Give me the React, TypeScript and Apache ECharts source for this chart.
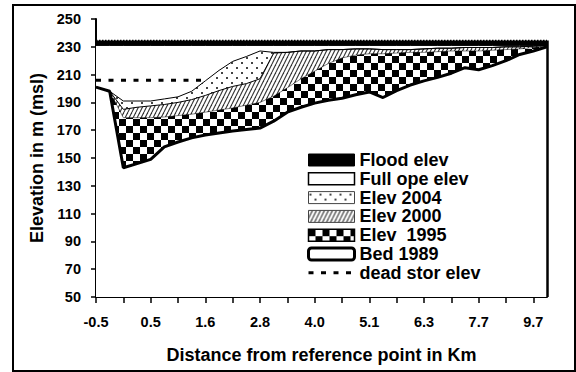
import React, { useEffect, useRef } from "react";
import * as echarts from "echarts";

const categories = ["-0.5","-0.3","0.0","0.2","0.5","0.8","1.0","1.3","1.6","1.9","2.2","2.5","2.8","3.1","3.4","3.7","4.0","4.3","4.5","4.8","5.1","5.4","5.7","6.0","6.3","6.7","7.0","7.4","7.7","8.2","8.7","9.2","9.7","10.0"];

const floodElev = [234.5,234.5,234.5,234.5,234.5,234.5,234.5,234.5,234.5,234.5,234.5,234.5,234.5,234.5,234.5,234.5,234.5,234.5,234.5,234.5,234.5,234.5,234.5,234.5,234.5,234.5,234.5,234.5,234.5,234.5,234.5,234.5,234.5,234.5];
const fullOpeElev = [231,231,231,231,231,231,231,231,231,231,231,231,231,231,231,231,231,231,231,231,231,231,231,231,231,231,231,231,231,231,231,231,231,231];
const elev2004 = [201,198,191,191,191,192.5,194,198,205.5,213,219.5,223,227,226,226,227,227,228,228,228.5,228.5,228,228,228,228.5,229,229,229.5,229.5,229.5,230,230,230.5,231];
const elev2000 = [201,198,185,186.5,187.5,188.5,190,192,195,198.5,201.5,203.5,207,225.5,226,227,227,228,228,228.5,228.5,228,228,228,228.5,229,229,229.5,229.5,229.5,230,230,230.5,231];
const elev1995 = [201,198,179,179,179,179.5,180.5,181.5,183,184.5,186,188,190,194.5,200.5,207,212.5,218,222,224,225,225,225.5,226,226,226.5,227,227,227,227.5,228,228.5,229.5,230.5];
const bed1989 = [201,198,143,146,149,158,161.5,164.5,166.5,168,169.5,170.5,171.5,176.5,183,186.5,189.5,191.5,193,195.5,197.5,193.5,198.5,202.5,205.5,208,211,215,213.5,216.5,220,224.5,227,230];
const deadStorElev = [206,206,206,206,206,206,206,206,206,null,null,null,null,null,null,null,null,null,null,null,null,null,null,null,null,null,null,null,null,null,null,null,null,null];

const yTicks = [50,70,90,110,130,150,170,190,210,230,250];
const yMin = 50;
const yMax = 250;

const FONT = "'Liberation Sans', Arial, Helvetica, sans-serif";

function makePattern(kind: string) {
  const c = document.createElement("canvas");
  let w = 10, h = 10;
  if (kind === "checker") { w = 14; h = 14; }
  if (kind === "hatch") { w = 4; h = 8; }
  c.width = w; c.height = h;
  const ctx = c.getContext("2d")!;
  ctx.fillStyle = "#fff";
  ctx.fillRect(0, 0, w, h);
  if (kind === "checker") {
    ctx.fillStyle = "#000";
    ctx.fillRect(0, 0, 7, 7);
    ctx.fillRect(7, 7, 7, 7);
  } else if (kind === "hatch") {
    ctx.strokeStyle = "#333";
    ctx.lineWidth = 1.1;
    for (const x0 of [-4, 0, 4]) {
      ctx.beginPath();
      ctx.moveTo(x0, 8);
      ctx.lineTo(x0 + 4, 0);
      ctx.stroke();
    }
  } else if (kind === "dots") {
    ctx.fillStyle = "#444";
    ctx.fillRect(1, 2, 2, 2);
    ctx.fillRect(6, 7, 2, 2);
  }
  return { image: c.toDataURL(), repeat: "repeat", imageWidth: w, imageHeight: h } as any;
}

export default function App() {
  const ref = useRef<HTMLDivElement>(null);
  useEffect(() => {
    document.body.style.margin = "0";
    const chart = echarts.init(ref.current!, null, { renderer: "svg" });
    const checker = makePattern("checker");
    const hatch = makePattern("hatch");
    const dots = makePattern("dots");
    const last = categories.length - 1;

    const area = (name: string, data: any[], fill: any, lw: number, lineType: any = "solid") => ({
      name,
      type: "line",
      data,
      symbol: "none",
      showSymbol: false,
      silent: true,
      emphasis: { disabled: true },
      lineStyle: { color: "#000", width: lw, type: lineType },
      itemStyle: { color: "#000" },
      areaStyle: { color: fill, opacity: 1, origin: "start" },
    });

    const bedSeries: any = area("Bed 1989", bed1989, "#fff", 3);
    bedSeries.markLine = {
      silent: true,
      symbol: ["none", "none"],
      label: { show: false },
      emphasis: { disabled: true },
      lineStyle: { color: "#000", width: 2.5, type: "solid" },
      data: [[{ coord: [categories[last], yMin] }, { coord: [categories[last], floodElev[last]] }]],
    };

    chart.setOption({
      animation: false,
      backgroundColor: "#fff",
      textStyle: { fontFamily: FONT },
      grid: { left: 96, right: 29, top: 19, bottom: 75, containLabel: false, outerBoundsMode: "none" } as any,
      graphic: [
        {
          type: "rect",
          shape: { x: 13, y: 5, width: 562, height: 366 },
          style: { fill: "none", stroke: "#000", lineWidth: 2 },
          silent: true,
          z: 100,
        },
      ],
      legend: {
        orient: "vertical",
        left: 307,
        top: 151,
        padding: 0,
        itemWidth: 46,
        itemHeight: 12,
        itemGap: 0.8,
        selectedMode: false,
        textStyle: { fontSize: 18, fontWeight: "bold", color: "#000", fontFamily: FONT, lineHeight: 18 },
        data: [
          { name: "Flood elev", icon: "rect", itemStyle: { color: "#000", borderColor: "#000", borderWidth: 1 } },
          { name: "Full ope elev", icon: "rect", itemStyle: { color: "#fff", borderColor: "#000", borderWidth: 1.5 } },
          { name: "Elev 2004", icon: "rect", itemStyle: { color: dots, borderColor: "#444", borderWidth: 1 } },
          { name: "Elev 2000", icon: "rect", itemStyle: { color: hatch, borderColor: "#444", borderWidth: 1 } },
          { name: "Elev  1995", icon: "rect", itemStyle: { color: checker, borderColor: "#000", borderWidth: 1.5 } },
          { name: "Bed 1989", icon: "roundRect", itemStyle: { color: "#fff", borderColor: "#000", borderWidth: 3 } },
          { name: "dead stor elev", itemStyle: { opacity: 0 }, lineStyle: { width: 3, type: [5, 7.5], color: "#000" } },
        ],
      },
      xAxis: {
        type: "category",
        data: categories,
        boundaryGap: false,
        name: "Distance from reference point in Km",
        nameLocation: "middle",
        nameGap: 49,
        nameTextStyle: { fontSize: 18, fontWeight: "bold", color: "#000", fontFamily: FONT },
        axisLine: { show: true, lineStyle: { color: "#000", width: 2 } },
        axisTick: { show: true, interval: 1, length: 6, lineStyle: { color: "#000", width: 1.5 } },
        axisLabel: { interval: 3, margin: 17, fontSize: 14.5, fontWeight: "bold", color: "#000", fontFamily: FONT },
        splitLine: { show: false },
      },
      yAxis: {
        type: "value",
        min: yMin,
        max: yMax,
        interval: 10,
        name: "Elevation in m (msl)",
        nameLocation: "middle",
        nameRotate: 90,
        nameGap: 50,
        nameTextStyle: { fontSize: 18, fontWeight: "bold", color: "#000", fontFamily: FONT },
        axisLine: { show: true, lineStyle: { color: "#000", width: 2 } },
        axisTick: { show: true, length: 5, customValues: yTicks, lineStyle: { color: "#000", width: 1.5 } },
        axisLabel: { margin: 15, customValues: yTicks, fontSize: 14.5, fontWeight: "bold", color: "#000", fontFamily: FONT },
        splitLine: { show: false },
      },
      series: [
        area("Flood elev", floodElev, "#000", 1.5, "dotted"),
        area("Full ope elev", fullOpeElev, "#fff", 1),
        area("Elev 2004", elev2004, dots, 1),
        area("Elev 2000", elev2000, hatch, 1),
        area("Elev  1995", elev1995, checker, 0.5),
        bedSeries,
        {
          name: "dead stor elev",
          type: "line",
          data: deadStorElev,
          symbol: "none",
          showSymbol: false,
          silent: true,
          emphasis: { disabled: true },
          itemStyle: { color: "#000" },
          lineStyle: { color: "#000", width: 3, type: [5, 7.5] },
        },
      ],
    } as any);
    return () => chart.dispose();
  }, []);
  return <div ref={ref} style={{ width: 576, height: 372, position: "absolute", left: 0, top: 0 }} />;
}
